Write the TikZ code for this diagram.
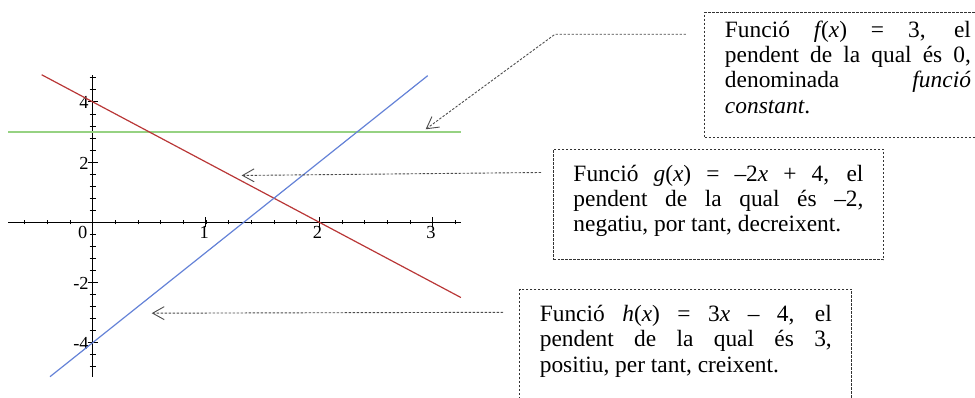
\documentclass[tikz,border=0pt]{standalone}
\usepackage{fontspec}
\setmainfont{Liberation Serif}
\usetikzlibrary{arrows.meta,positioning,calc}

\definecolor{gline}{RGB}{150,210,130}
\definecolor{rline}{RGB}{185,55,55}
\definecolor{bline}{RGB}{100,130,215}

\begin{document}
\begin{tikzpicture}[
  note/.style={draw=black!80,dash pattern=on 1.2pt off 0.8pt,line width=0.5pt,
               anchor=north west,align=justify,inner xsep=10pt,inner ysep=0pt,
               font=\fontsize{11.7}{12.6}\selectfont},
  callout/.style={-{Straight Barb[length=5.8pt,width=6.5pt]},draw=black!70,
                  dash pattern=on 1.2pt off 0.8pt,line width=0.45pt},
  curve/.style={line width=0.6pt},
  tlab/.style={font=\fontsize{9.2}{10}\selectfont,inner sep=1pt}]

  \useasboundingbox (-1.629,-3.088) rectangle (15.505,3.906);
  \clip (-1.629,-3.088) rectangle (15.505,3.906);

  % plot of the three lines
  \begin{scope}[x=1.991cm,y=0.529cm]
    \draw[line width=0.6pt] (-0.745,0) -- (3.25,0);
    \draw[line width=0.6pt] (0,-5.13) -- (0,4.89);
    \foreach \t in {-0.6,-0.4,...,3.21}
      \draw[line width=0.4pt] (\t,0) ++(0pt,-1pt) -- ++(0pt,2pt);
    \foreach \t in {0,1,2,3}
      \draw[line width=0.5pt] (\t,0) ++(0pt,-2.5pt) -- ++(0pt,5pt);
    \foreach \t in {-4.8,-4.4,...,4.81}
      \draw[line width=0.4pt] (0,\t) ++(-1.5pt,0pt) -- ++(3pt,0pt);
    \foreach \t in {-4,-2,2,4}
      \draw[line width=0.5pt] (0,\t) ++(-2.5pt,0pt) -- ++(5pt,0pt);

    % tick labels
    \node[tlab] (xl0) at (0,0) [xshift=-5pt,yshift=-5.2pt] {0};
    \foreach \k in {1,2,3}
      \node[tlab] (xl\k) at (\k,0) [xshift=-0.85pt,yshift=-5.2pt] {\k};
    \foreach \k in {4,2,-2,-4}
      \node[tlab,anchor=east] (yl\k) at (0,\k) [xshift=-0.8pt,yshift=-0.5pt] {\k};

    % f, g, h
    \draw[gline,line width=1pt] (-0.745,3) -- (3.25,3);
    \draw[rline,curve] (-0.45,4.9) -- (3.25,-2.5);
    \draw[bline,curve] (-0.377,-5.13) -- (2.957,4.87);

    \coordinate (fpt) at (2.939,3.09);
    \coordinate (gpt) at (1.315,1.555);
    \coordinate (hpt) at (0.521,-3.02);
  \end{scope}

  % text boxes
  \node[note,text width=123pt,text height=12.65pt,text depth=50.15pt]
    (fbox) at (10.751,3.701)
    {Funció \textit{f}\kern-1pt(\textit{x}) = 3, el\linebreak
     pendent de la qual és 0,\linebreak
     denominada \textit{funció}\linebreak
     \textit{constant}.};
  \node[note,text width=145pt,text height=16pt,text depth=39.35pt]
    (gbox) at (8.089,1.293)
    {Funció \textit{g}(\textit{x}) = –2\textit{x} + 4, el\linebreak
     pendent de la qual és –2,\linebreak
     negatiu, por tant, decreixent.};
  \node[note,text width=146pt,text height=16.25pt,text depth=60pt]
    (hbox) at (7.497,-1.169)
    {Funció \textit{h}(\textit{x}) = 3\textit{x} – 4, el\linebreak
     pendent de la qual és 3,\linebreak
     positiu, per tant, creixent.};

  % callouts
  \draw[callout] ([shift={(-9.25pt,-11.3pt)}]fbox.north west) -- ++(-2.302,0) -- (fpt);
  \draw[callout] ([shift={(-6pt,-11.9pt)}]gbox.north west) -- (gpt);
  \draw[callout] ([shift={(-8.15pt,-11.75pt)}]hbox.north west) -- (hpt);
\end{tikzpicture}
\end{document}
